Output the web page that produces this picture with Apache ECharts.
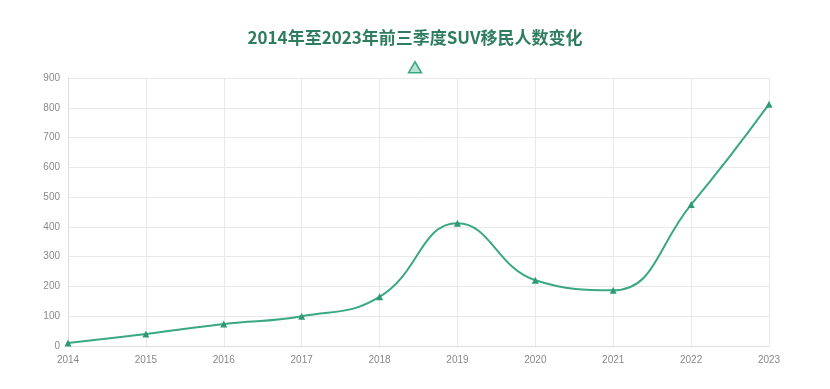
<!DOCTYPE html>
<html><head><meta charset="utf-8">
<script src="https://cdn.jsdelivr.net/npm/echarts@6/dist/echarts.min.js"></script>
<style>html,body{margin:0;padding:0;background:#fff}#c{width:830px;height:389px}</style>
</head><body><div id="c"></div>
<script>
const years = ['2014','2015','2016','2017','2018','2019','2020','2021','2022','2023'];
const migrants = [10, 40, 74, 100, 165, 412, 221, 187, 475, 812];
const yTicks = {min: 0, max: 900, interval: 100};
const titleText = '2014年至2023年前三季度SUV移民人数变化';
const seriesName = 'SUV移民人数';

const chart = echarts.init(document.getElementById('c'));
chart.setOption({
  animation: false,
  title: {
    text: titleText, left: 'center', top: 24,
    textStyle: {color: '#2f7d5f', fontSize: 17, fontWeight: 'bold', fontFamily: 'Noto Sans CJK SC'}
  },
  legend: {
    top: 56, left: 'center', icon: 'triangle', itemWidth: 13, itemHeight: 11,
    data: [{name: seriesName, itemStyle: {color: 'rgba(58,168,130,0.35)', borderColor: '#3aa882', borderWidth: 1.5}}],
    formatter: () => '', itemGap: 0
  },
  grid: {left: 68, right: 61, top: 78, bottom: 43},
  xAxis: {
    type: 'category', data: years, boundaryGap: false,
    axisLine: {lineStyle: {color: '#ddd'}}, axisTick: {show: false},
    axisLabel: {color: '#888', fontSize: 10, margin: 9, fontFamily: 'Liberation Sans'},
    splitLine: {show: true, lineStyle: {color: '#e9e9e9'}}
  },
  yAxis: {
    type: 'value', min: yTicks.min, max: yTicks.max, interval: yTicks.interval,
    axisLine: {show: true, lineStyle: {color: '#ddd'}}, axisTick: {show: false},
    axisLabel: {color: '#888', fontSize: 10, margin: 8, fontFamily: 'Liberation Sans'},
    splitLine: {lineStyle: {color: '#e9e9e9'}}
  },
  series: [{
    name: seriesName, type: 'line', data: migrants, smooth: 0.45,
    symbol: 'triangle', symbolSize: 7, showSymbol: true,
    lineStyle: {color: '#3aa882', width: 2},
    itemStyle: {color: '#2e9a75'}
  }]
});
</script></body></html>
